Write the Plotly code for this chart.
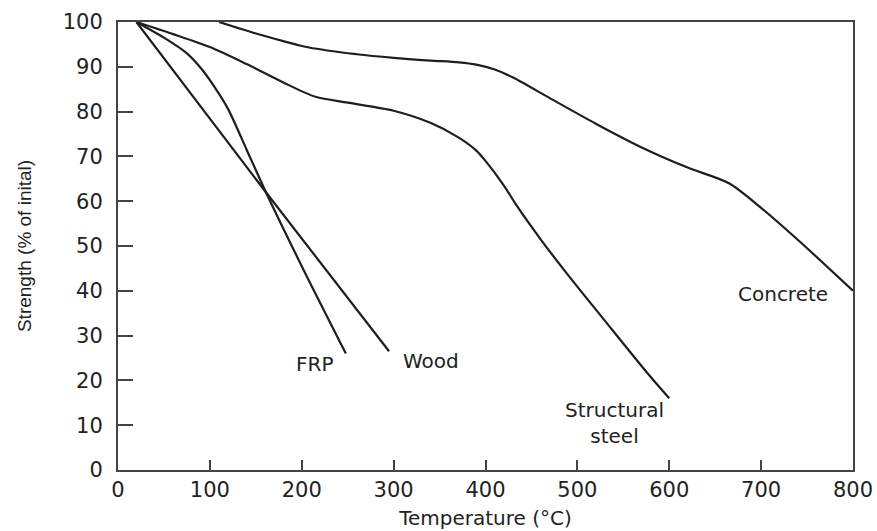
import plotly.graph_objects as go

# Data (temperature in °C, strength in % of initial)
frp_t = [20, 50, 75, 91, 105, 120, 140, 161, 200, 248]
frp_s = [100, 96.5, 93, 89.5, 85.5, 80.5, 71.5, 62, 45.5, 26]

wood_t = [20, 161, 295]
wood_s = [100, 62, 26.5]

steel_t = [20, 60, 100, 140, 180, 215, 250, 300, 340, 370, 390, 400, 420, 434, 460, 488, 530, 578, 600]
steel_s = [100, 97.3, 94.4, 90.6, 86.5, 83.3, 82, 80.2, 77.5, 74.3, 71.3, 69, 63.5, 59, 51.5, 44, 33.3, 21.2, 16]

concrete_t = [110, 154, 208, 260, 300, 340, 371, 390, 410, 430, 470, 520, 570, 620, 665, 700, 742, 800]
concrete_s = [100, 97.2, 94.3, 92.8, 92, 91.4, 91, 90.5, 89.4, 87.6, 83, 77.3, 72, 67.5, 64, 58.5, 51, 40]

x_ticks = [0, 100, 200, 300, 400, 500, 600, 700, 800]
y_ticks = [0, 10, 20, 30, 40, 50, 60, 70, 80, 90, 100]

label_names = ["FRP", "Wood", "Structural<br>steel", "Concrete"]
label_t = [214, 341, 540, 724]
label_s = [23.7, 24.3, 10.4, 39.3]

line_color = "#1e1e1e"
axis_color = "#444444"
text_color = "#222222"
font_main = "DejaVu Sans"

fig = go.Figure()
for t, s in [(frp_t, frp_s), (wood_t, wood_s), (steel_t, steel_s), (concrete_t, concrete_s)]:
    fig.add_trace(go.Scatter(
        x=t, y=s, mode="lines",
        line=dict(color=line_color, width=2.2, shape="spline", smoothing=0.8),
        showlegend=False, hoverinfo="skip",
    ))

for name, t, s in zip(label_names, label_t, label_s):
    fig.add_annotation(
        x=t, y=s, xref="x", yref="y", text=name, showarrow=False,
        font=dict(family=font_main, size=20, color=text_color),
        xanchor="center", yanchor="middle", align="center",
    )

fig.update_layout(
    width=877, height=531,
    margin=dict(l=118, r=24, t=22, b=61),
    paper_bgcolor="white", plot_bgcolor="white",
    showlegend=False,
    font=dict(family=font_main, color=text_color),
)

fig.update_xaxes(
    range=[0, 800], tickvals=x_ticks, ticktext=[str(v) for v in x_ticks],
    showgrid=False, zeroline=False, automargin=False,
    showline=True, linecolor=axis_color, linewidth=2, mirror=True,
    ticks="inside", ticklen=10, tickwidth=2, tickcolor=axis_color,
    tickfont=dict(family=font_main, size=21, color=text_color),
    ticklabelstandoff=0,
    title=dict(text="Temperature (°C)", font=dict(family=font_main, size=20, color=text_color), standoff=10),
)
fig.update_yaxes(
    range=[0, 100], tickvals=y_ticks, ticktext=[str(v) for v in y_ticks],
    showgrid=False, zeroline=False, automargin=False,
    showline=True, linecolor=axis_color, linewidth=2, mirror=True,
    ticks="inside", ticklen=15, tickwidth=2, tickcolor=axis_color,
    tickfont=dict(family=font_main, size=21, color=text_color),
    ticklabelstandoff=9,
    title=dict(text="Strength (% of inital)", font=dict(family="Liberation Sans", size=19, color=text_color), standoff=26),
)

# Remove the default page margin so the 877x531 figure fills the window exactly
fig.write_html(
    "out.html",
    config={"displayModeBar": False},
    post_script="document.body.style.margin='0';document.body.style.overflow='hidden';",
)
